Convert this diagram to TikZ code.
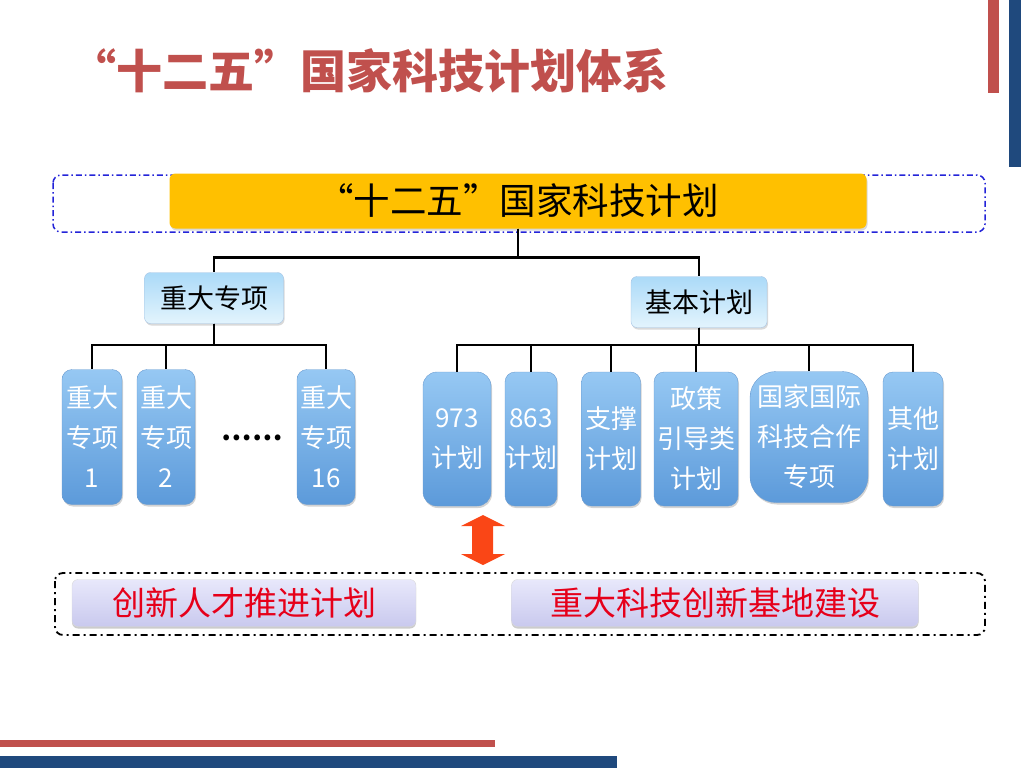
\documentclass[tikz,border=0pt]{standalone}
\usepackage{fontspec}
\setmainfont{Noto Sans CJK SC}
\usetikzlibrary{shadows}
\definecolor{titlered}{HTML}{C0504D}
\definecolor{barblue}{HTML}{1F497D}
\definecolor{planyellow}{HTML}{FFC000}
\definecolor{frameblue}{HTML}{2424D8}
\definecolor{leaftop}{HTML}{96C8F3}
\definecolor{leafbot}{HTML}{5C9ADA}
\definecolor{leafline}{HTML}{6A9BD0}
\definecolor{headtop}{HTML}{ABDAF8}
\definecolor{headbot}{HTML}{E3F4FD}
\definecolor{basetop}{HTML}{E8E8FB}
\definecolor{basebot}{HTML}{C9C9EE}
\definecolor{basered}{HTML}{E6001A}
\definecolor{arrowred}{HTML}{FA4616}

\begin{document}
\begin{tikzpicture}[x=1pt,y=-1pt,
    leaf/.style={draw=leafline,top color=leaftop,bottom color=leafbot,
      rounded corners=10pt,inner sep=0pt,align=center,text=white,
      font=\fontsize{26}{40}\selectfont,
      drop shadow={opacity=0.35,shadow xshift=1pt,shadow yshift=-2pt}},
    head/.style={draw=leafline!60,top color=headtop,bottom color=headbot,
      rounded corners=6pt,inner sep=0pt,font=\fontsize{27}{30}\selectfont,
      minimum height=51pt,
      drop shadow={opacity=0.3,shadow xshift=1pt,shadow yshift=-2pt}},
    base/.style={draw=black!15,top color=basetop,bottom color=basebot,
      rounded corners=6pt,inner sep=0pt,minimum height=47pt,
      text=basered,font=\fontsize{33}{36}\selectfont,
      drop shadow={opacity=0.4,shadow xshift=0pt,shadow yshift=-2pt}},
    trunk/.style={line width=2.5pt},
    twig/.style={line width=1.8pt}]
  \useasboundingbox (0,0) rectangle (1024,768);

  % bars at the edges
  \fill[titlered] (988,0) rectangle (999,93);
  \fill[barblue] (1009,0) rectangle (1021,167);
  \fill[titlered] (0,740) rectangle (495,747);
  \fill[barblue] (0,756) rectangle (617,768);

  \node[text=titlered,font=\fontsize{46}{50}\selectfont\bfseries] (title)
    at (369,71) {“十二五”国家科技计划体系};

  % top level
  \draw[frameblue,line width=1.5pt,rounded corners=8pt,
    dash pattern=on 6pt off 3pt on 1.5pt off 3pt] (53,175) rectangle (985,232);
  \node[fill=planyellow,rounded corners=6pt,minimum width=697pt,
    minimum height=55pt,font=\fontsize{36.5}{40}\selectfont,
    drop shadow={opacity=0.3,shadow xshift=1pt,shadow yshift=-2pt}]
    (plan) at (518,201) {“十二五”国家科技计划};

  \node[head,minimum width=139pt] (zd) at (214,298) {重大专项};
  \node[head,minimum width=136pt] (jb) at (699,302) {基本计划};

  \draw[trunk] (plan.south) -- ++(0,29) -| (zd.north);
  \draw[trunk] (plan.south) -- ++(0,29) -| (jb.north);

  % major projects
  \node[leaf,minimum width=60pt,minimum height=135pt] (z1) at (92,437)
    {重大\\专项\\1};
  \node[leaf,minimum width=58pt,minimum height=135pt] (z2) at (166,437)
    {重大\\专项\\2};
  \node[leaf,minimum width=58pt,minimum height=135pt] (z16) at (326,437)
    {重大\\专项\\16};
  \node[font=\fontsize{27}{30}\selectfont\bfseries] (dots) at (252,438) {……};
  \foreach \n in {z1,z2,z16}
    \draw[twig] (zd.south) -- ++(0,21) -| (\n.north);

  % basic plans
  \node[leaf,minimum width=68pt,minimum height=134pt,rounded corners=14pt]
    (p973) at (457,439) {973\\计划};
  \node[leaf,minimum width=50pt,minimum height=134pt] (p863) at (531,439)
    {863\\计划};
  \node[leaf,minimum width=59pt,minimum height=134pt] (zc) at (611,439)
    {支撑\\计划};
  \node[leaf,minimum width=84pt,minimum height=134pt] (zy) at (696,439)
    {政策\\引导类\\计划};
  \node[leaf,minimum width=118pt,minimum height=131pt,rounded corners=26pt]
    (gj) at (809,437) {国家国际\\科技合作\\专项};
  \node[leaf,minimum width=60pt,minimum height=134pt] (qt) at (913,439)
    {其他\\计划};
  \foreach \n in {p973,p863,zc,zy,gj,qt}
    \draw[twig] (jb.south) -- ++(0,17) -| (\n.north);

  % arrow
  \fill[arrowred] (483,515) -- (505,526) -- (493,526) -- (493,554)
    -- (505,554) -- (483,565) -- (461,554) -- (472,554) -- (472,526)
    -- (461,526) -- cycle;

  % base
  \draw[black,line width=1.8pt,rounded corners=8pt,
    dash pattern=on 7pt off 4pt on 2pt off 4pt] (55,573) rectangle (985,635);
  \node[base,minimum width=344pt] (rc) at (244,603) {创新人才推进计划};
  \node[base,minimum width=407pt] (jd) at (715,603) {重大科技创新基地建设};

\end{tikzpicture}
\end{document}
